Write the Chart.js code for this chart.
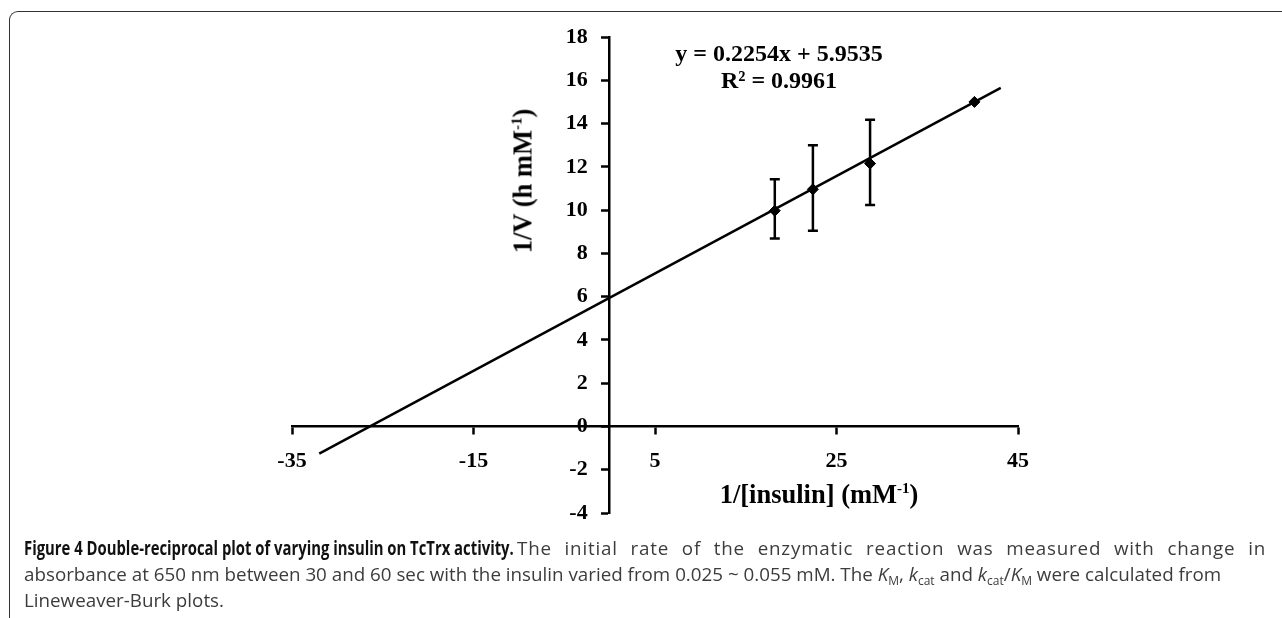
<!DOCTYPE html>
<html>
<head>
<meta charset="utf-8">
<script src="https://cdn.jsdelivr.net/npm/chart.js@4.4.0/dist/chart.umd.min.js"></script>
<style>
  body { margin: 0; background: #fff; width: 1282px; height: 618px; overflow: hidden; position: relative; }
  .frame { position: absolute; left: 9px; top: 11px; width: 1320px; height: 700px;
    border-left: 1.5px solid #333; border-top: 1.5px solid #333; border-top-left-radius: 9px; }
  #chart { position: absolute; left: 0; top: 0; }
  .lbl { position: absolute; font-family: "Liberation Serif", "Times New Roman", serif; font-weight: bold;
    font-size: 24px; color: #000; white-space: nowrap; transform: translate(-50%, -50%); }
  .lbl.title { font-size: 26.5px; }
  .lbl sup { font-size: 15px; vertical-align: 10px; line-height: 0; }
  .ytitle { transform: translate(-50%, -50%) rotate(-90deg); }
  .cap { position: absolute; font-family: "Open Sans", sans-serif; font-size: 18.8px; line-height: 26px;
    color: #3c3c3c; white-space: nowrap; }
  .cap.bold { font-weight: bold; color: #111; transform-origin: left center; }
  .cap.just { text-align: justify; text-align-last: justify; white-space: normal; letter-spacing: 0.8px; }
  .cap sub { font-size: 12px; vertical-align: -4px; line-height: 0; }
</style>
</head>
<body>
<div class="frame"></div>
<canvas id="chart" width="1282" height="618"></canvas>
<div class="lbl" style="left:779px; top:53px;">y = 0.2254x + 5.9535</div>
<div class="lbl" style="left:779px; top:80px;">R² = 0.9961</div>
<div class="lbl title ytitle" style="left:523px; top:181px;">1/V (h mM<sup>-1</sup>)</div>
<div class="lbl title" style="left:819px; top:494px;">1/[insulin] (mM<sup>-1</sup>)</div>
<span class="cap bold" id="capBold" style="left:24px; top:535px;">Figure 4 Double-reciprocal plot of varying insulin on TcTrx activity.</span>
<div class="cap just" style="left:517px; top:535px; width:749px;">The initial rate of the enzymatic reaction was measured with change in</div>
<div class="cap" style="left:24px; top:561px;">absorbance at 650 nm between 30 and 60 sec with the insulin varied from 0.025 ~ 0.055 mM. The <i>K</i><sub>M</sub>, <i>k</i><sub>cat</sub> and <i>k</i><sub>cat</sub>/<i>K</i><sub>M</sub> were calculated from</div>
<div class="cap" style="left:24px; top:587px;">Lineweaver-Burk plots.</div>
<script>
// measured points (1/[insulin], 1/V) with error bar ends
const xVals = [18.2, 22.4, 28.7, 40.2];
const yVals = [9.97, 10.96, 12.15, 15.0];
const errHigh = [11.43, 13.0, 14.18, 15.0];
const errLow = [8.69, 9.05, 10.23, 15.0];

// fitted line ends as drawn
const trendX = [-32, 43.1];
const trendY = [-1.26, 15.65];

const xTicks = [-35, -15, 5, 25, 45];
const yTicks = [-4, -2, 0, 2, 4, 6, 8, 10, 12, 14, 16, 18];

const tickFont = { family: "'Liberation Serif', 'Times New Roman', serif", size: 22, weight: "bold" };

// squeeze the bold caption lead-in to the width it has in the figure
const capBold = document.getElementById("capBold");
capBold.style.transform = `scaleX(${490 / capBold.offsetWidth})`;

const errorBars = {
  id: "errorBars",
  afterDatasetsDraw: (chart) => {
    const ctx = chart.ctx;
    const xs = chart.scales.x;
    const ys = chart.scales.y;
    ctx.save();
    ctx.strokeStyle = "#000";
    ctx.lineWidth = 2.5;
    xVals.forEach((x, i) => {
      if (errHigh[i] === errLow[i]) return;
      const px = xs.getPixelForValue(x);
      const top = ys.getPixelForValue(errHigh[i]);
      const bot = ys.getPixelForValue(errLow[i]);
      ctx.beginPath();
      ctx.moveTo(px, top);
      ctx.lineTo(px, bot);
      ctx.moveTo(px - 5, top);
      ctx.lineTo(px + 5, top);
      ctx.moveTo(px - 5, bot);
      ctx.lineTo(px + 5, bot);
      ctx.stroke();
    });
    ctx.restore();
  },
};

const ctx = document.getElementById("chart");
new Chart(ctx, {
  type: "scatter",
  data: {
    datasets: [
      {
        type: "line",
        data: trendX.map((x, i) => ({ x: x, y: trendY[i] })),
        borderColor: "#000",
        borderWidth: 2.5,
        pointRadius: 0,
        fill: false,
      },
      {
        data: xVals.map((x, i) => ({ x: x, y: yVals[i] })),
        pointStyle: "rectRot",
        pointRadius: 5.5,
        backgroundColor: "#000",
        borderColor: "#000",
      },
    ],
  },
  options: {
    responsive: false,
    animation: false,
    layout: { padding: { left: 292, right: 264, top: 37, bottom: 105 } },
    plugins: { legend: { display: false }, tooltip: { enabled: false } },
    scales: {
      x: {
        type: "linear",
        position: { y: 0 },
        min: -35,
        max: 45,
        afterBuildTicks: (s) => { s.ticks = xTicks.map((v) => ({ value: v })); },
        afterFit: (s) => { s.height = 0; },
        grid: { drawOnChartArea: false, drawTicks: true, tickLength: 7, tickWidth: 2.5, tickColor: "#000" },
        border: { display: true, color: "#000", width: 2.5 },
        ticks: { color: "#000", font: tickFont, padding: 15, maxRotation: 0 },
      },
      y: {
        type: "linear",
        position: { x: 0 },
        min: -4,
        max: 18,
        afterBuildTicks: (s) => { s.ticks = yTicks.map((v) => ({ value: v })); },
        afterFit: (s) => { s.width = 0; },
        grid: { drawOnChartArea: false, drawTicks: true, tickLength: 7, tickWidth: 2.5, tickColor: "#000" },
        border: { display: true, color: "#000", width: 2.5 },
        // labels sit left of the crossing axis, pad them off the line
        ticks: { color: "#000", font: tickFont, callback: (v) => v + "\u2002\u2002" },
      },
    },
  },
  plugins: [errorBars],
});
</script>
</body>
</html>
